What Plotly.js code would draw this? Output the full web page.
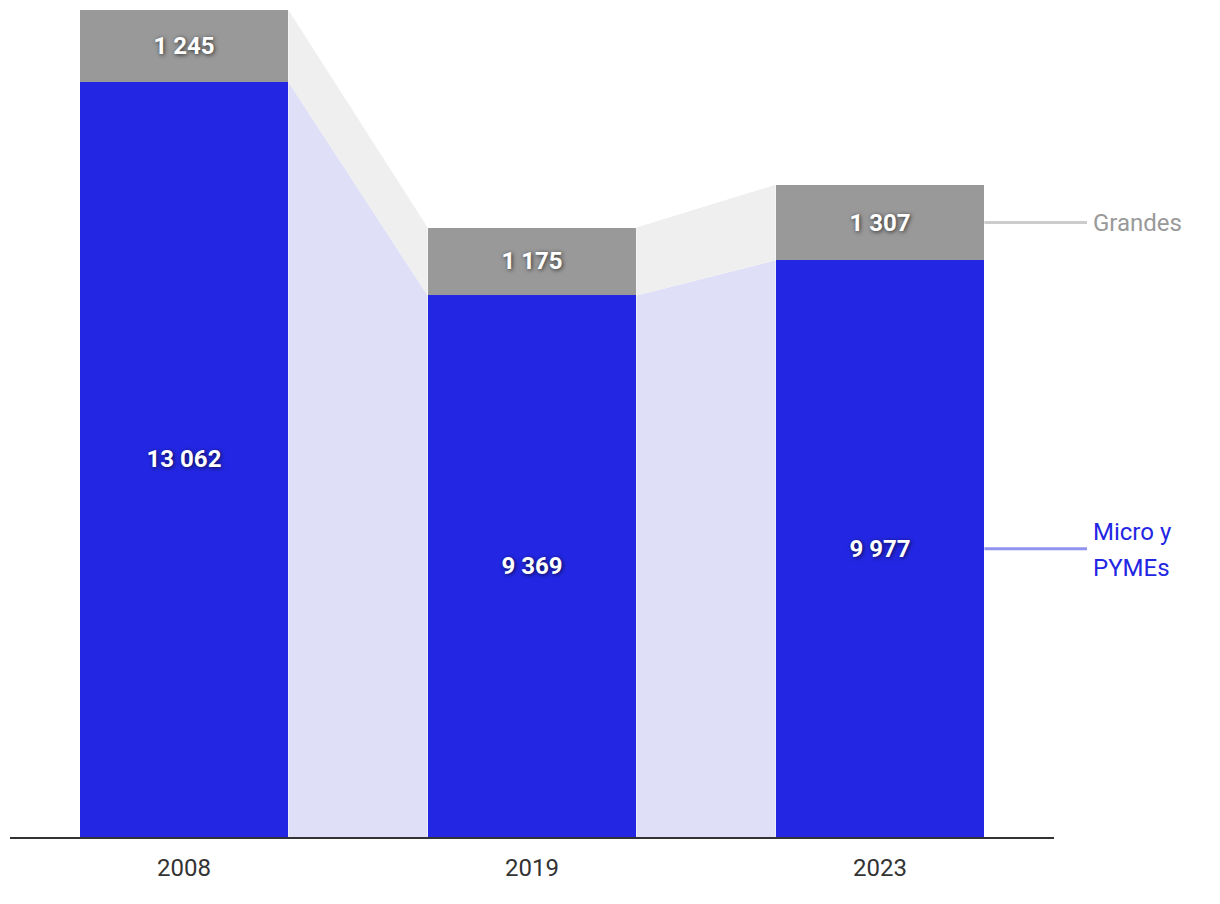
<!DOCTYPE html>
<html>
<head>
<meta charset="utf-8">
<script src="https://cdn.plot.ly/plotly-3.0.1.min.js"></script>
<style>html,body{margin:0;padding:0;background:#fff;}#chart{width:1220px;height:904px;}</style>
</head>
<body>
<div id="chart"></div>
<script>
const years = ["2008", "2019", "2023"];
const micro = [13062, 9369, 9977];
const grandes = [1245, 1175, 1307];
const microLabelLines = ["Micro y", "PYMEs"];
const grandesLabel = "Grandes";

const blue = "#2327e3", gray = "#999999";
const lav = "#dfe0f8", lgray = "#efefef";
const W = 0.6;
const idx = years.map((_, i) => i);
const totals = micro.map((m, i) => m + grandes[i]);

const traces = [];
for (let i = 0; i < years.length - 1; i++) {
  const x0 = i + W / 2, x1 = i + 1 - W / 2;
  traces.push({type: "scatter", mode: "lines", x: [x0, x0, x1, x1, x0], y: [0, micro[i], micro[i + 1], 0, 0],
    fill: "toself", fillcolor: lav, line: {width: 0}, hoverinfo: "skip", showlegend: false});
  traces.push({type: "scatter", mode: "lines", x: [x0, x0, x1, x1, x0], y: [micro[i], totals[i], totals[i + 1], micro[i + 1], micro[i]],
    fill: "toself", fillcolor: lgray, line: {width: 0}, hoverinfo: "skip", showlegend: false});
}
const tf = {family: "Roboto", size: 24, color: "#ffffff", weight: 700, shadow: "1px 1px 4px rgba(0,0,0,0.7)"};
traces.push({type: "bar", x: idx, y: micro, width: W, marker: {color: blue}, texttemplate: "%{y:,}",
  textposition: "inside", insidetextanchor: "middle", textfont: tf, showlegend: false, constraintext: "none"});
traces.push({type: "bar", x: idx, y: grandes, width: W, marker: {color: gray}, texttemplate: "%{y:,}",
  textposition: "inside", insidetextanchor: "middle", textfont: tf, showlegend: false, constraintext: "none"});

const n = years.length;
const last = n - 1;
const px0 = (last + W / 2 + 0.5) / n;
const px1 = 1.0316;
const microMid = micro[last] / 2;
const grMid = micro[last] + grandes[last] / 2;
const layout = {
  width: 1220, height: 904,
  margin: {l: 10, r: 166, t: 10, b: 67},
  barmode: "stack", separators: ". ",
  paper_bgcolor: "#fff", plot_bgcolor: "#fff",
  font: {family: "Roboto", color: "#333"},
  xaxis: {range: [-0.5, n - 0.5], tickvals: idx, ticktext: years, showgrid: false, zeroline: false,
    showline: true, linecolor: "#333", linewidth: 2, ticks: "", ticklabelstandoff: 8,
    tickfont: {size: 24, color: "#333"}, fixedrange: true},
  yaxis: {range: [0, totals[0]], visible: false, showgrid: false, zeroline: false, fixedrange: true},
  shapes: [
    {type: "line", xref: "paper", yref: "y", x0: px0, x1: px1, y0: microMid, y1: microMid,
      line: {color: "#9193ee", width: 3}},
    {type: "line", xref: "paper", yref: "y", x0: px0, x1: px1, y0: grMid, y1: grMid,
      line: {color: "#cccccc", width: 3}}
  ],
  annotations: [
    {xref: "paper", yref: "y", x: 1.035, y: microMid, yshift: 17, xanchor: "left", yanchor: "middle", align: "left",
      text: microLabelLines[0], showarrow: false, font: {size: 24, color: blue}},
    {xref: "paper", yref: "y", x: 1.035, y: microMid, yshift: -19, xanchor: "left", yanchor: "middle", align: "left",
      text: microLabelLines[1], showarrow: false, font: {size: 24, color: blue}},
    {xref: "paper", yref: "y", x: 1.035, y: grMid, xanchor: "left", yanchor: "middle", align: "left",
      text: grandesLabel, showarrow: false, font: {size: 24, color: "#999999"}}
  ],
  hovermode: false
};
Plotly.newPlot("chart", traces, layout, {displayModeBar: false, staticPlot: true});
</script>
</body>
</html>
